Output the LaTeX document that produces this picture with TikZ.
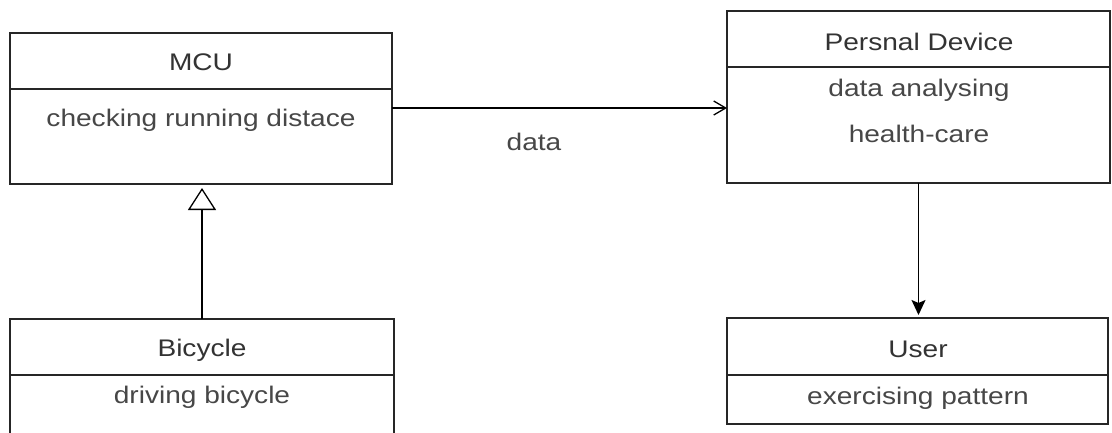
\documentclass[tikz,border=0pt]{standalone}
\usepackage{fontspec}
\setmainfont{Liberation Sans}[FakeStretch=1.17]
\usetikzlibrary{arrows.meta,calc}
\begin{document}
\begin{tikzpicture}[x=1pt,y=-1pt,
  box/.style={draw=black!85,line width=1.5pt,rectangle,anchor=north west,inner sep=0pt,outer sep=0pt},
  ttl/.style={font=\fontsize{24}{28}\selectfont,text=black!80,anchor=base,inner sep=0pt},
  itm/.style={font=\fontsize{24}{28}\selectfont,text=black!72,anchor=base,inner sep=0pt},
  conn/.style={draw=black,line width=1.3pt},
  assoc/.style={conn,-{Straight Barb[length=12pt,width=14pt]}},
  inh/.style={conn,-{Triangle[open,length=22pt,width=28pt]},shorten >=4pt},
  dep/.style={conn,-{Stealth[length=15pt,width=14pt,inset=3pt]},shorten >=3pt}]
\useasboundingbox[fill=white] (0,0) rectangle (1112,432);
% MCU
\node[box,minimum width=382pt,minimum height=56pt] (mcuH) at (10,33) {};
\node[box,minimum width=382pt,minimum height=95pt] (mcuB) at (10,89) {};
\node[ttl] (mcuT) at (201,70) {MCU};
\node[itm] (mcuI) at (201,126) {checking running distace};
% Persnal Device
\node[box,minimum width=383pt,minimum height=56pt] (pdH) at (727,11) {};
\node[box,minimum width=383pt,minimum height=116pt] (pdB) at (727,67) {};
\node[ttl] (pdT) at (919,50) {Persnal Device};
\node[itm] (pdI1) at (919,96) {data analysing};
\node[itm] (pdI2) at (919,142) {health-care};
% Bicycle
\node[box,minimum width=384pt,minimum height=56pt] (bikeH) at (10,319) {};
\node[box,minimum width=384pt,minimum height=80pt] (bikeB) at (10,375) {};
\node[ttl] (bikeT) at (202,356) {Bicycle};
\node[itm] (bikeI) at (202,403) {driving bicycle};
% User
\node[box,minimum width=381pt,minimum height=57pt] (userH) at (727,318) {};
\node[box,minimum width=381pt,minimum height=49pt] (userB) at (727,375) {};
\node[ttl] (userT) at (918,357) {User};
\node[itm] (userI) at (918,404) {exercising pattern};
% connectors
\coordinate (ay) at (0,108);
\draw[assoc] (mcuB.east |- ay) -- (pdB.west |- ay);
\node[itm] (lbl) at (534,150) {data};
\draw[inh] (bikeH.north) -- (bikeH.north |- mcuB.south);
\draw[dep] (pdB.south) -- (pdB.south |- userH.north);
\end{tikzpicture}
\end{document}
